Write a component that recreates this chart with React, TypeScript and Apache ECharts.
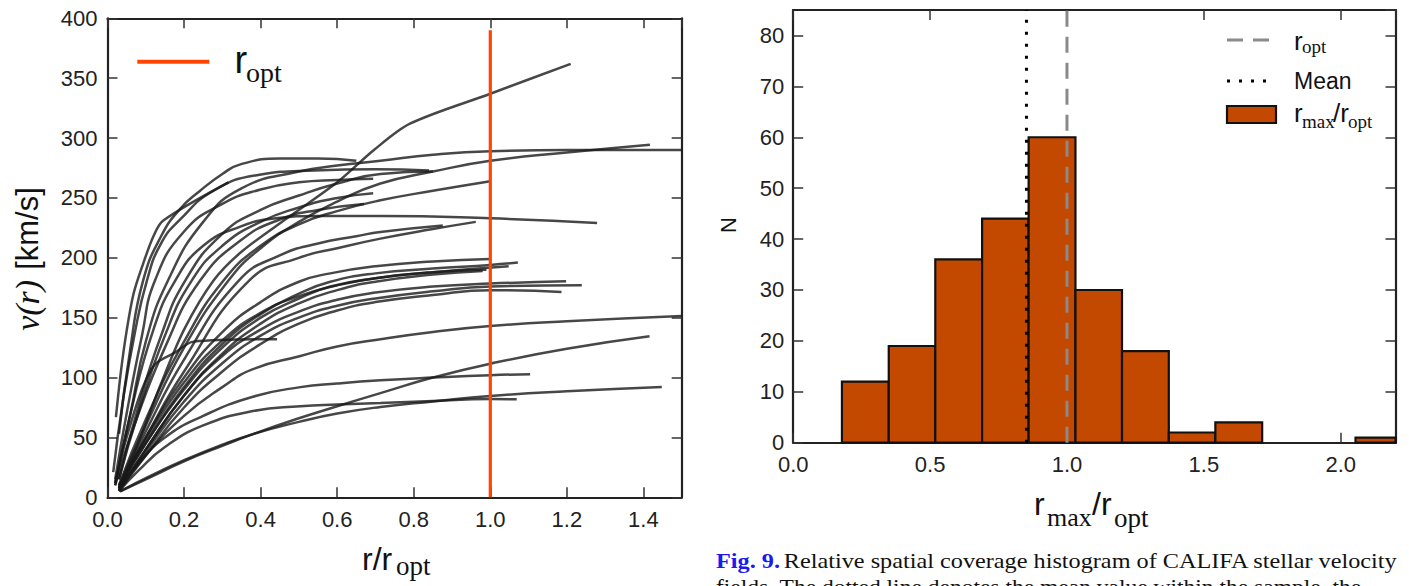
import React, { useEffect, useRef } from 'react';
import * as echarts from 'echarts';

const SANS = "'Liberation Sans', Arial, Helvetica, sans-serif";
const SERIF = "'Liberation Serif', 'Times New Roman', serif";

// ---------- Left panel: rotation curves v(r) vs r/r_opt ----------
const curve1 = [[0.03,53],[0.06,125],[0.093,181],[0.14,218],[0.19,241],[0.242,256],[0.3,270],[0.347,278],[0.45,283],[0.55,283],[0.65,281]];
const curve2 = [[0.022,67],[0.035,105],[0.05,139],[0.068,170],[0.093,195],[0.12,218],[0.145,231],[0.316,263]];
const curve3 = [[0.015,21],[0.04,80],[0.07,135],[0.103,181],[0.14,212],[0.19,232],[0.277,256],[0.39,269],[0.54,273],[0.7,274],[0.84,273]];
const curve4 = [[0.03,15],[0.08,75],[0.14,135],[0.203,181],[0.3,220],[0.4,240],[0.5,252],[0.6,262],[0.713,270],[0.85,272]];
const curve5 = [[0.02,15],[0.05,70],[0.09,135],[0.124,181],[0.2,222],[0.3,245],[0.4,257],[0.5,263],[0.6,265],[0.694,266]];
const curve6 = [[0.03,15],[0.08,70],[0.15,135],[0.22,181],[0.3,210],[0.4,230],[0.5,242],[0.6,250],[0.694,254]];
const curve7 = [[0.02,10],[0.07,60],[0.15,125],[0.242,181],[0.35,215],[0.45,232],[0.55,240],[0.67,245]];
const curveA = [[0.03,8],[0.08,45],[0.14,95],[0.2,140],[0.277,181],[0.35,205],[0.469,233],[0.6,263],[0.696,290],[0.79,312],[1.0,337],[1.21,362]];
const curveB = [[0.02,12],[0.06,70],[0.1,130],[0.158,181],[0.25,230],[0.35,258],[0.5,272],[0.6,277],[0.713,281],[0.85,286],[1.0,289],[1.2,290],[1.5,290]];
const curveC = [[0.03,10],[0.1,60],[0.2,125],[0.316,181],[0.4,208],[0.5,230],[0.6,247],[0.713,262],[0.85,272],[1.0,281],[1.2,288],[1.417,294.5]];
const curveD = [[0.03,10],[0.1,65],[0.2,130],[0.303,181],[0.4,210],[0.5,228],[0.6,239],[0.713,248],[0.85,256],[1.0,264]];
const curveE = [[0.02,10],[0.06,70],[0.12,140],[0.177,181],[0.25,210],[0.347,226],[0.44,233],[0.55,235],[0.713,235],[1.0,233],[1.279,229]];
const curveF = [[0.03,8],[0.1,55],[0.2,115],[0.343,181],[0.45,202],[0.55,212],[0.65,218],[0.713,221.6],[0.876,227]];
const curveG = [[0.03,8],[0.1,50],[0.2,105],[0.37,181],[0.5,200],[0.6,208],[0.713,216],[0.85,224],[0.962,230]];
const curveH = [[0.03,8],[0.1,50],[0.2,100],[0.3,138],[0.4,163],[0.5,180],[0.582,187],[0.7,193],[0.85,197],[1.0,199]];
const curveI = [[0.03,8],[0.1,45],[0.2,92],[0.3,128],[0.4,153],[0.5,170],[0.582,180],[0.7,187],[0.85,191],[1.0,194],[1.072,196]];
const curveJ = [[0.03,8],[0.1,45],[0.2,90],[0.3,125],[0.4,150],[0.5,166],[0.582,176],[0.7,183],[0.85,188],[1.048,193]];
const curveK1 = [[0.03,8],[0.1,48],[0.2,96],[0.3,131],[0.4,154],[0.5,168],[0.6,177],[0.7,183],[0.85,188],[0.99,190]];
const curveK2 = [[0.03,6],[0.1,40],[0.2,85],[0.3,120],[0.4,145],[0.5,162],[0.6,173],[0.7,180],[0.85,186],[0.98,189]];
const curveL = [[0.03,6],[0.1,40],[0.2,85],[0.3,118],[0.4,140],[0.5,155],[0.6,165],[0.7,171],[0.85,176],[1.0,178.5],[1.198,180.4]];
const curveM = [[0.03,6],[0.1,38],[0.2,80],[0.3,112],[0.4,135],[0.5,150],[0.6,160],[0.7,166],[0.85,172],[1.0,176],[1.239,177]];
const curveN = [[0.03,5],[0.1,35],[0.2,75],[0.3,105],[0.4,128],[0.5,145],[0.6,156],[0.7,163],[0.85,169],[1.0,173],[1.186,171.5]];
const curveO = [[0.03,6],[0.1,35],[0.2,68],[0.3,92],[0.38,107],[0.504,118],[0.6,126],[0.713,132],[0.85,138],[1.0,143],[1.2,147],[1.5,151.4]];
const curveP = [[0.033,5],[0.1,15],[0.2,30],[0.3,43],[0.382,53],[0.5,66],[0.6,76],[0.713,87],[0.85,100],[1.0,111.6],[1.2,124],[1.416,134.4]];
const curveQ = [[0.03,6],[0.08,28],[0.15,50],[0.25,68],[0.38,84],[0.504,92],[0.6,95],[0.713,97.7],[0.85,100],[1.0,102],[1.104,102.7]];
const curveR = [[0.033,5],[0.1,16],[0.2,31],[0.3,44],[0.382,53],[0.5,63],[0.6,70],[0.713,75.4],[0.85,80],[1.0,84.6],[1.2,88.5],[1.448,92.1]];
const curveS = [[0.03,5],[0.08,22],[0.15,42],[0.25,60],[0.38,72],[0.504,76],[0.6,77.5],[0.713,78.8],[0.85,80.5],[1.0,82],[1.069,81.8]];
const curveT = [[0.02,12],[0.05,50],[0.09,90],[0.124,111],[0.177,121],[0.225,130],[0.443,132]];

const smoothCurves = [curve1, curve3, curve4, curve5, curve6, curve7, curveB, curveC, curveD, curveE, curveF, curveG,
  curveH, curveI, curveJ, curveK1, curveK2, curveL, curveM, curveN, curveO, curveP, curveQ, curveR, curveS];
const kinkedCurves = [curve2, curveA, curveT];

const roptLine = [[1.0, 0], [1.0, 390]];

// ---------- Right panel: histogram of r_max/r_opt ----------
const histEdges = [0.178, 0.349, 0.519, 0.690, 0.860, 1.031, 1.201, 1.372, 1.542, 1.713, 1.883, 2.054, 2.224];
const histCounts = [12, 19, 36, 44, 60, 30, 18, 2, 4, 0, 0, 1];
const meanValue = 0.852;
const roptValue = 1.0;

const LEFT = { x: 107.5, y: 18.3, w: 574.2, h: 479 };
const RIGHT = { x: 793.2, y: 10, w: 602.3, h: 432.7 };

const tickStyle = { show: true, inside: true, length: 10, lineStyle: { color: '#333', width: 1.5 } };
const lineStyleAxis = { show: true, onZero: false, lineStyle: { color: '#222', width: 2.2 } };
const labelBase = { color: '#222', fontSize: 22, fontFamily: SANS };

function txt(x: number, y: number, text: string, size: number, font: string, extra: any = {}) {
  return {
    type: 'text', x, y,
    style: { text, fontSize: size, fontFamily: font, fill: '#111', verticalAlign: 'middle', align: 'left', ...extra },
  };
}

export default function App() {
  const ref = useRef<HTMLDivElement>(null);
  useEffect(() => {
    if (!ref.current) return;
    const chart = echarts.init(ref.current, undefined, { renderer: 'svg' });

    const curveSeries: any[] = [];
    smoothCurves.forEach((c, i) => curveSeries.push({
      type: 'line', name: 'c' + i, xAxisIndex: 0, yAxisIndex: 0, data: c,
      smooth: 0.5, symbol: 'none', silent: true,
      lineStyle: { color: 'rgba(25,25,25,0.8)', width: 2.5 }, z: 2,
    }));
    kinkedCurves.forEach((c, i) => curveSeries.push({
      type: 'line', name: 'k' + i, xAxisIndex: 0, yAxisIndex: 0, data: c,
      smooth: 0.3, symbol: 'none', silent: true,
      lineStyle: { color: 'rgba(25,25,25,0.8)', width: 2.5 }, z: 2,
    }));

    const option: any = {
      animation: false,
      backgroundColor: '#fff',
      grid: [
        { left: LEFT.x, top: LEFT.y, width: LEFT.w, height: LEFT.h, containLabel: false },
        { left: RIGHT.x, top: RIGHT.y, width: RIGHT.w, height: RIGHT.h, containLabel: false },
      ],
      xAxis: [
        { gridIndex: 0, type: 'value', min: 0, max: 1.5, interval: 0.2, position: 'bottom',
          axisLine: lineStyleAxis, axisTick: tickStyle, splitLine: { show: false },
          axisLabel: { ...labelBase, margin: 11, showMaxLabel: false, formatter: (v: number) => v.toFixed(1) } },
        { gridIndex: 0, type: 'value', min: 0, max: 1.5, interval: 0.2, position: 'top',
          axisLine: lineStyleAxis, axisTick: tickStyle, splitLine: { show: false }, axisLabel: { show: false } },
        { gridIndex: 1, type: 'value', min: 0, max: 2.2, interval: 0.5, position: 'bottom',
          axisLine: lineStyleAxis, axisTick: tickStyle, splitLine: { show: false },
          axisLabel: { ...labelBase, margin: 11, showMaxLabel: false, formatter: (v: number) => v.toFixed(1) } },
        { gridIndex: 1, type: 'value', min: 0, max: 2.2, interval: 0.5, position: 'top',
          axisLine: lineStyleAxis, axisTick: tickStyle, splitLine: { show: false }, axisLabel: { show: false } },
      ],
      yAxis: [
        { gridIndex: 0, type: 'value', min: 0, max: 400, interval: 50, position: 'left',
          axisLine: lineStyleAxis, axisTick: tickStyle, splitLine: { show: false },
          axisLabel: { ...labelBase, margin: 10 } },
        { gridIndex: 0, type: 'value', min: 0, max: 400, interval: 50, position: 'right',
          axisLine: lineStyleAxis, axisTick: tickStyle, splitLine: { show: false }, axisLabel: { show: false } },
        { gridIndex: 1, type: 'value', min: 0, max: 85, interval: 10, position: 'left',
          axisLine: lineStyleAxis, axisTick: tickStyle, splitLine: { show: false },
          axisLabel: { ...labelBase, margin: 9, showMaxLabel: false } },
        { gridIndex: 1, type: 'value', min: 0, max: 85, interval: 10, position: 'right',
          axisLine: lineStyleAxis, axisTick: tickStyle, splitLine: { show: false }, axisLabel: { show: false } },
      ],
      series: [
        ...curveSeries,
        { type: 'line', name: 'ropt', xAxisIndex: 0, yAxisIndex: 0, data: roptLine, symbol: 'none', silent: true,
          lineStyle: { color: '#FF4500', width: 3.2 }, z: 5 },
        { type: 'custom', name: 'hist', xAxisIndex: 2, yAxisIndex: 2, silent: true, z: 2,
          data: histCounts.map((c, i) => [histEdges[i], histEdges[i + 1], c]),
          encode: { x: [0, 1], y: 2 },
          renderItem: (params: any, api: any) => {
            const x0 = api.value(0), x1 = api.value(1), c = api.value(2);
            if (!c) return null;
            const p0 = api.coord([x0, c]);
            const p1 = api.coord([x1, 0]);
            const cs = params.coordSys;
            const shape = echarts.graphic.clipRectByRect(
              { x: p0[0], y: p0[1], width: p1[0] - p0[0], height: p1[1] - p0[1] },
              { x: cs.x, y: cs.y, width: cs.width, height: cs.height });
            if (!shape) return null;
            return { type: 'rect', shape, style: { fill: '#C44900', stroke: '#111', lineWidth: 2.2 } };
          } },
        { type: 'line', name: 'mean', xAxisIndex: 2, yAxisIndex: 2, data: [[meanValue, 0], [meanValue, 85]],
          symbol: 'none', silent: true, z: 6, lineStyle: { color: '#000', width: 3, type: [3, 9] } },
        { type: 'line', name: 'roptH', xAxisIndex: 2, yAxisIndex: 2, data: [[roptValue, 0], [roptValue, 85]],
          symbol: 'none', silent: true, z: 6, lineStyle: { color: '#8a8a8a', width: 3, type: [16, 10] } },
      ],
      graphic: [
        // left legend
        { type: 'line', shape: { x1: 137.3, y1: 61.7, x2: 209.3, y2: 61.7 }, style: { stroke: '#FF4500', lineWidth: 4 } },
        txt(234.5, 59.5, 'r', 38, SANS),
        txt(246, 72.5, 'opt', 28, SERIF),
        // left y title
        { type: 'text', x: 27, y: 259, rotation: Math.PI / 2,
          style: { text: '{v|v(r)}{s| }{k|[km/s]}', align: 'center', verticalAlign: 'middle',
            rich: { v: { fontSize: 34, fontFamily: SERIF, fontStyle: 'italic', fill: '#111' },
                    s: { fontSize: 31, fontFamily: SANS, width: 10 },
                    k: { fontSize: 31, fontFamily: SANS, fill: '#111' } } } },
        // left x title
        txt(362, 559, 'r/r', 32, SANS),
        txt(396, 566, 'opt', 27, SERIF),
        // right y title
        { type: 'text', x: 728, y: 225, rotation: Math.PI / 2,
          style: { text: 'N', fontSize: 22, fontFamily: SANS, fill: '#111', align: 'center', verticalAlign: 'middle' } },
        // right x title
        txt(1034, 504, 'r', 32, SANS),
        txt(1047, 517.5, 'max', 26, SERIF),
        txt(1092, 504, '/r', 32, SANS),
        txt(1114, 517.5, 'opt', 27, SERIF),
        // right legend
        { type: 'line', shape: { x1: 1227, y1: 40, x2: 1276, y2: 40 }, style: { stroke: '#8a8a8a', lineWidth: 3, lineDash: [16, 10] } },
        txt(1294, 41, 'r', 26, SANS),
        txt(1302, 46, 'opt', 19, SERIF),
        { type: 'line', shape: { x1: 1227, y1: 81, x2: 1270, y2: 81 }, style: { stroke: '#000', lineWidth: 3, lineDash: [3, 9] } },
        txt(1294, 81, 'Mean', 23, SANS),
        { type: 'rect', shape: { x: 1227, y: 106, width: 49, height: 17 }, style: { fill: '#C44900', stroke: '#111', lineWidth: 2.2 } },
        txt(1294, 113, 'r', 26, SANS),
        txt(1302, 121.5, 'max', 19, SERIF),
        txt(1333, 113, '/r', 26, SANS),
        txt(1348, 121.5, 'opt', 19, SERIF),
        // caption
        { type: 'text', x: 716, y: 561, scaleX: 1.155,
          style: { text: '{b|Fig. 9.} {n|Relative spatial coverage histogram of CALIFA stellar velocity}', verticalAlign: 'middle', align: 'left',
            rich: { b: { fontSize: 21, fontFamily: SERIF, fontWeight: 'bold', fill: '#1a1aee' },
                    n: { fontSize: 21, fontFamily: SERIF, fill: '#111' } } } },
        { type: 'text', x: 716, y: 587, scaleX: 1.12,
          style: { text: 'fields. The dotted line denotes the mean value within the sample, the', fontSize: 21, fontFamily: SERIF, fill: '#111', verticalAlign: 'middle', align: 'left' } },
      ],
    };
    chart.setOption(option);
    return () => chart.dispose();
  }, []);
  return <div ref={ref} style={{ position: 'absolute', left: 0, top: 0, width: 1409, height: 586, background: '#fff' }} />;
}
